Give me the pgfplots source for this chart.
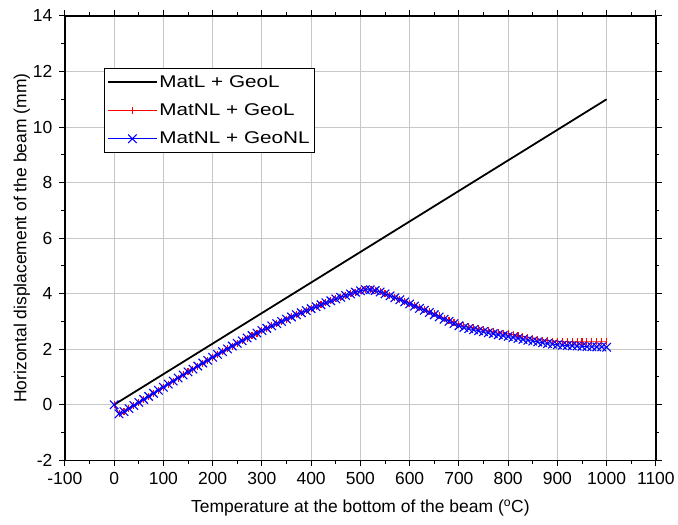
\documentclass[border=0pt]{standalone}
\usepackage{fontspec}
\setmainfont{Liberation Sans}
\usepackage{graphicx}
\usepackage{pgfplots}
\pgfplotsset{compat=1.18}
\usepackage{pgfplotstable}

% temperature, MatNL+GeoL, MatNL+GeoNL
\pgfplotstableread{
T    nlgl   nlgnl
0    0.00   0.00
10  -0.33  -0.33
20  -0.25  -0.25
30  -0.14  -0.14
40  -0.03  -0.03
50   0.08   0.08
60   0.19   0.19
70   0.30   0.30
80   0.41   0.41
90   0.52   0.52
100  0.63   0.63
110  0.74   0.74
120  0.85   0.85
130  0.96   0.96
140  1.07   1.07
150  1.18   1.18
160  1.28   1.28
170  1.39   1.39
180  1.50   1.50
190  1.60   1.60
200  1.71   1.71
210  1.81   1.81
220  1.91   1.91
230  2.01   2.01
240  2.11   2.11
250  2.21   2.21
260  2.30   2.30
270  2.40   2.40
280  2.49   2.49
290  2.58   2.58
300  2.67   2.67
310  2.75   2.75
320  2.84   2.84
330  2.92   2.92
340  3.00   3.00
350  3.08   3.08
360  3.16   3.16
370  3.24   3.24
380  3.31   3.31
390  3.39   3.39
400  3.46   3.46
410  3.53   3.53
420  3.60   3.60
430  3.67   3.67
440  3.74   3.74
450  3.81   3.81
460  3.87   3.87
470  3.93   3.93
480  3.99   3.99
490  4.05   4.05
500  4.10   4.10
510  4.14   4.14
520  4.14   4.14
530  4.11   4.11
540  4.06   4.06
550  3.99   3.99
560  3.93   3.92
570  3.86   3.85
580  3.79   3.78
590  3.72   3.70
600  3.65   3.63
610  3.57   3.55
620  3.50   3.47
630  3.43   3.40
640  3.35   3.32
650  3.28   3.24
660  3.20   3.16
670  3.12   3.08
680  3.05   3.00
690  2.97   2.92
700  2.89   2.84
710  2.84   2.78
720  2.80   2.74
730  2.77   2.70
740  2.73   2.66
750  2.70   2.63
760  2.67   2.59
770  2.64   2.56
780  2.61   2.52
790  2.58   2.49
800  2.55   2.46
810  2.52   2.42
820  2.49   2.39
830  2.46   2.35
840  2.42   2.32
850  2.39   2.29
860  2.36   2.26
870  2.33   2.23
880  2.31   2.20
890  2.29   2.18
900  2.28   2.16
910  2.27   2.14
920  2.27   2.13
930  2.27   2.12
940  2.27   2.11
950  2.27   2.10
960  2.27   2.09
970  2.27   2.09
980  2.27   2.08
990  2.27   2.08
1000 2.27   2.07
}\beamdata

\begin{document}
\begin{tikzpicture}
\begin{axis}[
    width=592pt, height=445pt, scale only axis,
    xmin=-100, xmax=1100, ymin=-2, ymax=14,
    xtick distance=100, ytick distance=2,
    minor x tick num=1, minor y tick num=1,
    tick align=outside,
    major tick length=6pt, minor tick length=3.5pt,
    tick style={black, line width=1pt},
    axis line style={line width=1.3pt},
    grid=major,
    grid style={black!22, line width=1pt},
    /pgf/number format/assume math mode=true,
    /pgf/number format/1000 sep={},
    tick label style={font=\fontsize{17.5}{20}\selectfont},
    xticklabel style={yshift=-3pt},
    yticklabel style={xshift=-3pt},
    label style={font=\fontsize{17.5}{20}\selectfont},
    xlabel={Temperature at the bottom of the beam (\textsuperscript{o}C)},
    ylabel={Horizontal displacement of the beam (mm)},
    xlabel style={yshift=-8pt},
    ylabel style={yshift=-4pt},
    legend style={at={(rel axis cs:0.066,0.883)}, anchor=north west,
        draw=black, line width=1pt, font=\fontsize{17}{20}\selectfont,
        row sep=11pt, inner xsep=3pt, inner ysep=5pt},
    legend cell align=left,
    legend image code/.code={%
        \draw[mark repeat=2, mark phase=2, #1]
        plot coordinates {(0cm,0cm) (0.85cm,0cm) (1.7cm,0cm)};},
]
\addplot[black, line width=1.8pt, no marks] coordinates {(0,0) (1000,11)};
\addlegendentry{\scalebox{1.22}[1]{MatL + GeoL}}
\addplot[red, line width=0.8pt, mark=|, mark size=3.5pt,
    mark options={line width=1.1pt}] table[x=T, y=nlgl] {\beamdata};
\addlegendentry{\scalebox{1.22}[1]{MatNL + GeoL}}
\addplot[blue, line width=0.8pt, mark=x, mark size=6pt,
    mark options={line width=1.1pt}] table[x=T, y=nlgnl] {\beamdata};
\addlegendentry{\scalebox{1.22}[1]{MatNL + GeoNL}}
\end{axis}
\path ([xshift=-65pt,yshift=16pt]current axis.north west)
      ([xshift=21pt,yshift=-64pt]current axis.south east);
\end{tikzpicture}
\end{document}
